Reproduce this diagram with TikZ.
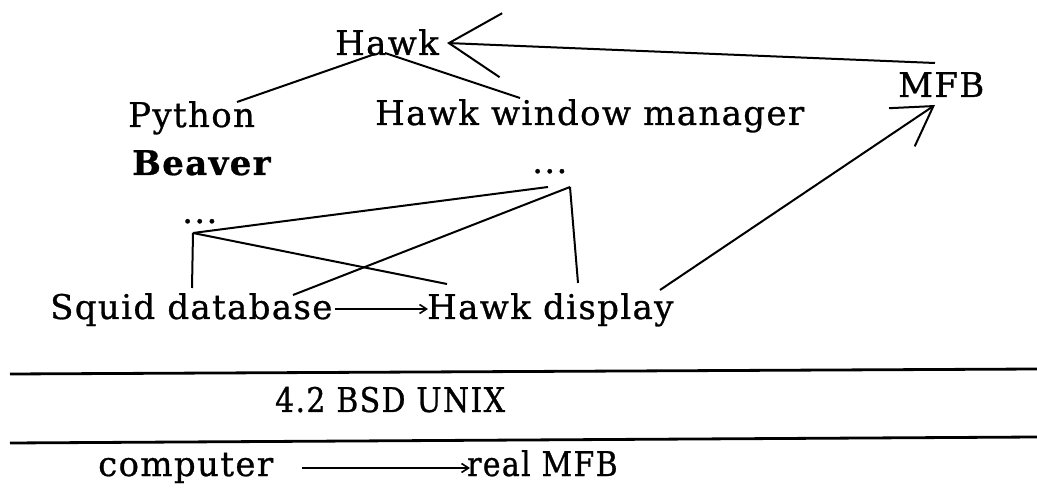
\documentclass[tikz,border=0pt]{standalone}
\usepackage{fontspec}
\setmainfont{DejaVu Serif}[LetterSpace=4,FakeBold=0.8]
\newfontfamily\narrowfont{DejaVu Serif}[LetterSpace=4,FakeBold=0.8,FakeStretch=0.88]
\usepackage{tikz}
\usetikzlibrary{calc,arrows.meta}

\tikzset{
  lbl/.style={anchor=base west,inner sep=0pt,font=\fontsize{34}{40}\selectfont},
  link/.style={line width=2pt},
  bigbarb/.style={link,arrows={-Straight Barb[length=52pt,width=64pt,line width=2pt]}},
  midbarb/.style={link,arrows={-Straight Barb[length=38pt,width=46pt,line width=2pt]}},
  smallbarb/.style={link,arrows={-Straight Barb[length=7pt,width=9pt,line width=1.6pt]}},
  rule/.style={line width=2.8pt}
}

\begin{document}
\begin{tikzpicture}[x=1pt,y=-1pt]
\useasboundingbox (0,0) rectangle (1037,494);

% Upper tree
\node[lbl] (hawk) at (335,55) {Hawk};
\node[lbl] (python) at (128,127) {Python};
\node[lbl] (wm) at (375,125) {Hawk window manager};
\node[lbl] (mfb) at (898,97) {MFB};
\node[lbl,font=\fontsize{34}{40}\selectfont\bfseries] (beaver) at (132,175) {Beaver};
\node[lbl] (rdots) at (532,173) {...};
\node[lbl] (ldots) at (182,223) {...};
\node[lbl] (squid) at (50,319) {Squid database};
\node[lbl] (disp) at (427,319) {Hawk display};

\draw[bigbarb] ($(mfb.base west)+(37,-34)$) -- ($(hawk.base west)+(112,-12)$);
\draw[link] ($(hawk.base west)+(40,-1)$) -- ($(python.base west)+(109,-25)$);
\draw[link] ($(hawk.base west)+(50,-2)$) -- ($(wm.base west)+(145,-27)$);

% crossing links between the dots and the bottom row
\draw[link] ($(ldots.base west)+(11,10)$) -- ($(rdots.base west)+(16,14)$);
\draw[link] ($(ldots.base west)+(11,10)$) -- ($(squid.base west)+(142,-31)$);
\draw[link] ($(ldots.base west)+(11,10)$) -- ($(disp.base west)+(20,-35)$);
\draw[link] ($(rdots.base west)+(38,14)$) -- ($(squid.base west)+(243,-24)$);
\draw[link] ($(rdots.base west)+(38,14)$) -- ($(disp.base west)+(151,-36)$);

\draw[smallbarb] ($(squid.base west)+(285,-10)$) -- ($(disp.base west)+(1,-10)$);
\draw[midbarb] ($(disp.base west)+(233,-29)$) -- ($(mfb.base west)+(37,8)$);

% Operating system layer
\draw[rule] (10,374) -- (1037,369);
\node[lbl,font=\fontsize{34}{40}\narrowfont] (unix) at (275,412) {4.2 BSD UNIX};
\draw[rule] (10,443) -- (1037,437);

\node[lbl] (comp) at (98,476) {computer};
\node[lbl,font=\fontsize{34}{40}\narrowfont] (real) at (467,476) {real MFB};
\draw[smallbarb] ($(comp.base west)+(204,-8)$) -- ($(real.base west)+(3,-8)$);
\end{tikzpicture}
\end{document}
